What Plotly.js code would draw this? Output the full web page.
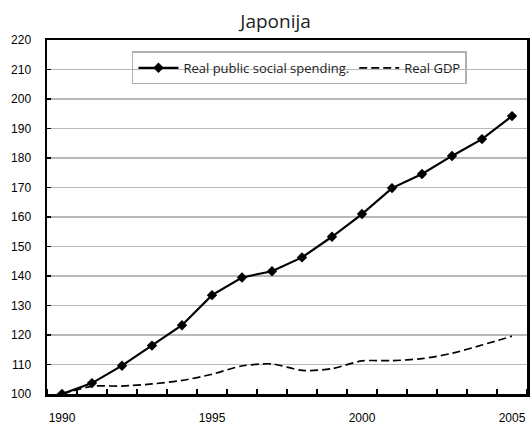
<!DOCTYPE html>
<html>
<head>
<meta charset="utf-8">
<script src="https://cdn.plot.ly/plotly-3.0.1.min.js"></script>
<style>html,body{margin:0;padding:0;background:#fff;}#chart{width:530px;height:427px;}</style>
</head>
<body>
<div id="chart"></div>
<script>
const years = [1990,1991,1992,1993,1994,1995,1996,1997,1998,1999,2000,2001,2002,2003,2004,2005];
const socialSpending = [100,103.7,109.6,116.4,123.3,133.5,139.5,141.6,146.3,153.3,161,169.8,174.6,180.7,186.4,194.2];
const realGDP = [100,102.6,102.7,103.4,104.6,106.7,109.5,110.2,108,108.6,111.2,111.3,112,113.8,116.6,119.6];
const seriesNames = ["Real public social spending.", "Real GDP"];
const chartTitle = "Japonija";

const traces = [
  {
    x: years, y: socialSpending, name: seriesNames[0], type: "scatter", mode: "lines+markers",
    line: {color: "#000", width: 2.2},
    marker: {symbol: "diamond", size: 8, color: "#000"}
  },
  {
    x: years, y: realGDP, name: seriesNames[1], type: "scatter", mode: "lines",
    line: {color: "#000", width: 1.7, dash: "8px,4px", shape: "spline", smoothing: 0.8}
  }
];

const layout = {
  width: 530, height: 427,
  margin: {l: 47, r: 3, t: 40, b: 33},
  paper_bgcolor: "#fff", plot_bgcolor: "#fff",
  showlegend: true,
  title: {text: chartTitle, x: 0.52, xanchor: "center", y: 0.95, yanchor: "middle",
          font: {family: "Open Sans, Noto Sans, sans-serif", size: 19, color: "#222"}},
  font: {family: "Liberation Sans, Arial, sans-serif", size: 12, color: "#000"},
  xaxis: {
    range: [1989.5, 2005.5], dtick: 5, tick0: 1990,
    showgrid: false, zeroline: false,
    showline: true, linecolor: "#000", linewidth: 2.5, mirror: true,
    ticks: "",
    minor: {tick0: 1989.5, dtick: 1, ticks: "inside", ticklen: 5, tickcolor: "#000", tickwidth: 1.8, showgrid: false},
    tickfont: {family: "Liberation Sans, Arial, sans-serif", size: 12, color: "#000"},
    ticklabelstandoff: 11
  },
  yaxis: {
    range: [100, 220], dtick: 10,
    showgrid: true, gridcolor: "#b8b8b8", gridwidth: 1.3, zeroline: false,
    showline: true, linecolor: "#000", linewidth: 2.5, mirror: true,
    ticks: "inside", ticklen: 4, tickcolor: "#000", tickwidth: 1.8,
    tickfont: {family: "Liberation Sans, Arial, sans-serif", size: 12, color: "#000"},
    ticklabelstandoff: 11
  },
  legend: {
    orientation: "h", x: 0.177, xanchor: "left", y: 0.968, yanchor: "top",
    bgcolor: "rgba(0,0,0,0)", bordercolor: "#b0b0b0", borderwidth: 1.5,
    font: {family: "Open Sans, Noto Sans, sans-serif", size: 13, color: "#222"},
    itemwidth: 40, tracegroupgap: 0
  }
};

Plotly.newPlot("chart", traces, layout, {displayModeBar: false, staticPlot: true});
</script>
</body>
</html>
